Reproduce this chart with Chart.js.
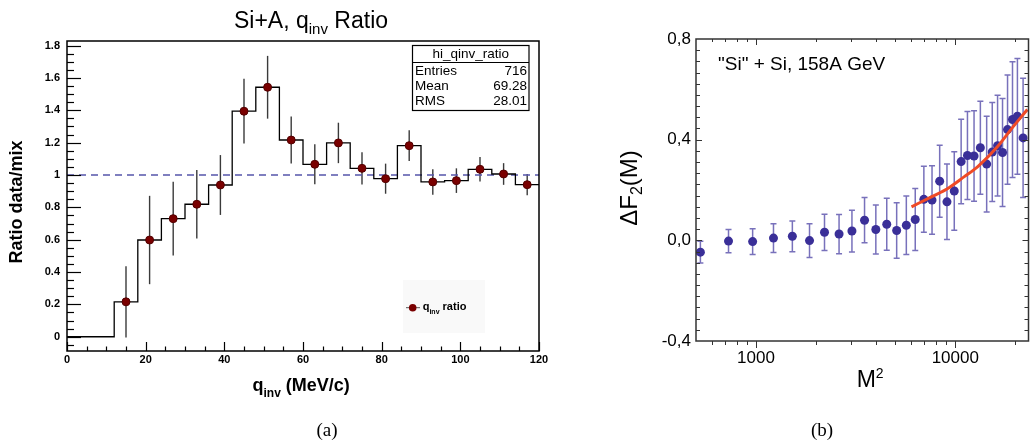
<!DOCTYPE html>
<html><head><meta charset="utf-8">
<script src="https://cdn.jsdelivr.net/npm/chart.js@4.4.0/dist/chart.umd.min.js"></script>
<style>
html,body{margin:0;padding:0;background:#fff;}
#wrap{position:relative;width:1033px;height:448px;overflow:hidden;background:#fff;}
#ca{position:absolute;left:0;top:0;width:580px;height:448px;}
#cb{position:absolute;left:580px;top:0;width:453px;height:448px;}
</style></head><body>
<div id="wrap">
<div id="ca"><canvas id="chartA" width="580" height="448"></canvas></div>
<div id="cb"><canvas id="chartB" width="453" height="448"></canvas></div>
</div>
<script>
// ---------- Panel (a): Si+A, q_inv ratio ----------
const qinvBinEdges = [0,6,12,18,24,30,36,42,48,54,60,66,72,78,84,90,96,102,108,114,120];
const ratioValues  = [0,0,0.216,0.598,0.730,0.819,0.938,1.394,1.542,1.216,1.066,1.198,1.041,0.977,1.181,0.957,0.965,1.035,1.006,0.940];
const ratioErrors  = [null,null,0.220,0.273,0.228,0.212,0.185,0.200,0.194,0.145,0.124,0.125,0.100,0.093,0.095,0.079,0.076,0.076,0.067,0.066];
const qinvTickValues  = [0,20,40,60,80,100,120];
const qinvTickLabels  = ['0','20','40','60','80','100','120'];
const ratioTickValues = [0,0.2,0.4,0.6,0.8,1,1.2,1.4,1.6,1.8];
const ratioTickLabels = ['0','0.2','0.4','0.6','0.8','1','1.2','1.4','1.6','1.8'];
const qinvRange  = [0,120];
const ratioRange = [-0.088,1.828];
const ratioReference = 1;
const statsTitle  = 'hi_qinv_ratio';
const statsNames  = ['Entries','Mean','RMS'];
const statsValues = ['716','69.28','28.01'];

// ---------- Panel (b): "Si" + Si, 158A GeV ----------
const m2Values  = [526,728,962,1224,1522,1856,2207,2611,3030,3505,3993,4530,5080,5680,6296,6955,7644,8350,9083,9883,10700,11510,12420,13360,14370,15330,16300,17260,18290,19370,20500,21890];
const dF2Values = [-0.047,-0.003,-0.005,0.009,0.016,-0.001,0.032,0.025,0.037,0.080,0.043,0.064,0.039,0.060,0.083,0.163,0.160,0.235,0.153,0.196,0.313,0.337,0.335,0.368,0.303,0.351,0.376,0.349,0.440,0.480,0.493,0.407];
const dF2Errors = [0.043,0.046,0.051,0.057,0.061,0.067,0.072,0.078,0.083,0.090,0.097,0.103,0.110,0.116,0.123,0.131,0.136,0.143,0.150,0.156,0.168,0.175,0.180,0.185,0.190,0.197,0.200,0.215,0.217,0.230,0.230,0.237];
const fitM2  = [6030,7590,9080,11100,12970,16300,19000,23000];
const fitDF2 = [0.133,0.173,0.204,0.253,0.293,0.373,0.440,0.520];
const m2TickValues  = [1000,10000];
const m2TickLabels  = ['1000','10000'];
const dF2TickValues = [-0.4,0,0.4,0.8];
const dF2TickLabels = ['-0,4','0,0','0,4','0,8'];
const m2Range  = [500,23300];
const dF2Range = [-0.4,0.8];

const FONT  = '"Liberation Sans", Arial, Helvetica, sans-serif';
const SERIF = '"Liberation Serif", "Times New Roman", serif';

function drawParts(ctx, parts, x, y, align){
  let total = 0;
  parts.forEach(p => { ctx.font = p.font; p.w = ctx.measureText(p.t).width; total += p.w; });
  let cx = align === 'center' ? x - total/2 : x;
  ctx.textAlign = 'left'; ctx.textBaseline = 'alphabetic';
  parts.forEach(p => { ctx.font = p.font; ctx.fillText(p.t, cx, y + (p.dy||0)); cx += p.w; });
}

// ---------- build panel (a) ----------
const histPoints = qinvBinEdges.map((e,i) => ({x:e, y:ratioValues[Math.min(i, ratioValues.length-1)]}));
const markerPoints = [];
ratioValues.forEach((v,i) => {
  if (ratioErrors[i] !== null) markerPoints.push({x:(qinvBinEdges[i]+qinvBinEdges[i+1])/2, y:v, err:ratioErrors[i]});
});

const panelA = {
  id:'panelA',
  beforeDatasetsDraw(chart){
    const {ctx, scales:{x,y}} = chart;
    ctx.save();
    ctx.strokeStyle = '#3a3a3a'; ctx.lineWidth = 1.4;
    markerPoints.forEach(p => {
      const px = x.getPixelForValue(p.x);
      ctx.beginPath();
      ctx.moveTo(px, y.getPixelForValue(p.y - p.err));
      ctx.lineTo(px, y.getPixelForValue(p.y + p.err));
      ctx.stroke();
    });
    ctx.restore();
  },
  afterDatasetsDraw(chart){
    const {ctx, chartArea:a, scales:{x,y}} = chart;
    ctx.save();
    ctx.strokeStyle = '#000'; ctx.lineWidth = 1.5;
    ctx.strokeRect(a.left, a.top, a.right-a.left, a.bottom-a.top);
    ctx.lineWidth = 1.2;
    for (let k=-1; k<=36; k++){
      const v = k*0.05; if (v < ratioRange[0] || v > ratioRange[1]) continue;
      const py = Math.round(y.getPixelForValue(v)) + 0.5;
      const len = (k % 4 === 0) ? 14 : 7;
      ctx.beginPath(); ctx.moveTo(a.left, py); ctx.lineTo(a.left+len, py); ctx.stroke();
    }
    for (let k=0; k<=24; k++){
      const v = k*5;
      const px = Math.round(x.getPixelForValue(v)) + 0.5;
      const len = (k % 4 === 0) ? 9 : 4.5;
      ctx.beginPath(); ctx.moveTo(px, a.bottom); ctx.lineTo(px, a.bottom-len); ctx.stroke();
    }
    ctx.restore();
  },
  afterDraw(chart){
    const {ctx} = chart;
    ctx.save();
    ctx.fillStyle = '#000';
    drawParts(ctx, [
      {t:'Si+A, q', font:'23px '+FONT},
      {t:'inv', font:'15px '+FONT, dy:6},
      {t:' Ratio', font:'23px '+FONT}
    ], 311, 28, 'center');
    ctx.save();
    ctx.translate(22, 202); ctx.rotate(-Math.PI/2);
    ctx.font = 'bold 18px '+FONT; ctx.textAlign = 'center'; ctx.textBaseline = 'alphabetic';
    ctx.fillText('Ratio data/mix', 0, 0);
    ctx.restore();
    drawParts(ctx, [
      {t:'q', font:'bold 18px '+FONT},
      {t:'inv', font:'bold 12px '+FONT, dy:6},
      {t:' (MeV/c)', font:'bold 18px '+FONT}
    ], 252.5, 391, 'left');
    // stats box
    ctx.fillStyle = '#fff'; ctx.fillRect(412.5, 45.5, 116.5, 65);
    ctx.strokeStyle = '#000'; ctx.lineWidth = 1.2;
    ctx.strokeRect(412.5, 45.5, 116.5, 65);
    ctx.beginPath(); ctx.moveTo(412.5, 62.5); ctx.lineTo(529, 62.5); ctx.stroke();
    ctx.fillStyle = '#000'; ctx.font = '13.5px '+FONT; ctx.textBaseline = 'alphabetic';
    ctx.textAlign = 'center'; ctx.fillText(statsTitle, 470.8, 58);
    statsNames.forEach((n,i) => {
      const by = 75 + i*14.8;
      ctx.textAlign = 'left';  ctx.fillText(n, 415, by);
      ctx.textAlign = 'right'; ctx.fillText(statsValues[i], 527, by);
    });
    // legend
    ctx.fillStyle = '#f9f9f9'; ctx.fillRect(403, 280, 82, 53);
    ctx.strokeStyle = '#555'; ctx.lineWidth = 1;
    ctx.beginPath(); ctx.moveTo(406, 307.7); ctx.lineTo(420, 307.7); ctx.stroke();
    ctx.fillStyle = '#7a0000'; ctx.beginPath(); ctx.arc(412.7, 307.7, 3.8, 0, Math.PI*2); ctx.fill();
    ctx.fillStyle = '#000';
    drawParts(ctx, [
      {t:'q', font:'bold 11px '+FONT},
      {t:'inv', font:'bold 7px '+FONT, dy:4},
      {t:' ratio', font:'bold 11px '+FONT}
    ], 422.7, 310, 'left');
    ctx.font = '19px '+SERIF; ctx.textAlign = 'center'; ctx.fillText('(a)', 327, 436);
    ctx.restore();
  }
};

new Chart(document.getElementById('chartA'), {
  type:'scatter',
  data:{datasets:[
    {type:'scatter', data:markerPoints, order:0, pointRadius:4, pointHoverRadius:4,
     pointBackgroundColor:'#7a0000', pointBorderColor:'#520000', pointBorderWidth:1},
    {type:'line', data:histPoints, order:1, stepped:'before', borderColor:'#000', borderWidth:1.3,
     pointRadius:0, fill:false, tension:0},
    {type:'line', data:[{x:qinvRange[0], y:ratioReference},{x:qinvRange[1], y:ratioReference}], order:2,
     borderColor:'#5555aa', borderWidth:1.6, borderDash:[7,5], pointRadius:0, fill:false}
  ]},
  options:{
    responsive:false, devicePixelRatio:1, animation:false,
    layout:{padding:{left:0, right:41, top:41, bottom:0}},
    plugins:{legend:{display:false}, tooltip:{enabled:false}, title:{display:false}},
    scales:{
      x:{type:'linear', min:qinvRange[0], max:qinvRange[1],
         afterBuildTicks:s => { s.ticks = qinvTickValues.map(v => ({value:v})); },
         afterFit:s => { s.height = 97; },
         ticks:{callback:(v,i) => qinvTickLabels[i], font:{family:FONT, size:11, weight:'bold'}, color:'#000',
                padding:2, maxRotation:0, autoSkip:false},
         grid:{display:false, drawTicks:false}, border:{display:false}},
      y:{type:'linear', min:ratioRange[0], max:ratioRange[1],
         afterBuildTicks:s => { s.ticks = ratioTickValues.map(v => ({value:v})); },
         afterFit:s => { s.width = 67; },
         ticks:{callback:(v,i) => ratioTickLabels[i], font:{family:FONT, size:11, weight:'bold'}, color:'#000',
                padding:7, autoSkip:false},
         grid:{display:false, drawTicks:false}, border:{display:false}}
    }
  },
  plugins:[panelA]
});

// ---------- build panel (b) ----------
const dF2Points = m2Values.map((m,i) => ({x:m, y:dF2Values[i], err:dF2Errors[i]}));
const fitPoints = fitM2.map((m,i) => ({x:m, y:fitDF2[i]}));

const panelB = {
  id:'panelB',
  beforeDatasetsDraw(chart){
    const {ctx, scales:{x,y}} = chart;
    ctx.save();
    ctx.strokeStyle = 'rgba(62,52,158,0.7)'; ctx.lineWidth = 1.5;
    dF2Points.forEach(p => {
      const px = x.getPixelForValue(p.x);
      const y1 = y.getPixelForValue(p.y - p.err), y2 = y.getPixelForValue(p.y + p.err);
      ctx.beginPath();
      ctx.moveTo(px, y1); ctx.lineTo(px, y2);
      ctx.moveTo(px-3, y1); ctx.lineTo(px+3, y1);
      ctx.moveTo(px-3, y2); ctx.lineTo(px+3, y2);
      ctx.stroke();
    });
    ctx.restore();
  },
  afterDatasetsDraw(chart){
    const {ctx, chartArea:a, scales:{x,y}} = chart;
    ctx.save();
    ctx.strokeStyle = '#333'; ctx.lineWidth = 1.5;
    ctx.strokeRect(a.left, a.top, a.right-a.left, a.bottom-a.top);
    ctx.lineWidth = 1;
    const nY = 27;
    for (let k=1; k<nY; k++){
      const v = dF2Range[0] + k*(dF2Range[1]-dF2Range[0])/nY;
      const py = Math.round(y.getPixelForValue(v)) + 0.5;
      const len = (k % 9 === 0) ? 6 : 4;
      ctx.beginPath();
      ctx.moveTo(a.left, py); ctx.lineTo(a.left+len, py);
      ctx.moveTo(a.right, py); ctx.lineTo(a.right-len, py);
      ctx.stroke();
    }
    [100,1000,10000].forEach(d => {
      for (let m=1; m<=9; m++){
        const v = m*d; if (v <= m2Range[0] || v >= m2Range[1]) continue;
        const px = Math.round(x.getPixelForValue(v)) + 0.5;
        const len = (m === 1) ? 7 : 4;
        ctx.beginPath();
        ctx.moveTo(px, a.bottom); ctx.lineTo(px, a.bottom+len);
        ctx.moveTo(px, a.top); ctx.lineTo(px, a.top+len-1);
        ctx.stroke();
      }
    });
    ctx.restore();
  },
  afterDraw(chart){
    const {ctx} = chart;
    ctx.save();
    ctx.fillStyle = '#000';
    ctx.font = '19px '+FONT; ctx.textAlign = 'left'; ctx.textBaseline = 'alphabetic';
    ctx.fillText('"Si" + Si, 158A GeV', 138, 70);
    ctx.save();
    ctx.translate(57, 188); ctx.rotate(-Math.PI/2);
    drawParts(ctx, [
      {t:'\u0394F', font:'24px '+FONT},
      {t:'2', font:'16px '+FONT, dy:5},
      {t:'(M)', font:'24px '+FONT}
    ], 0, 0, 'center');
    ctx.restore();
    drawParts(ctx, [
      {t:'M', font:'23px '+FONT},
      {t:'2', font:'14px '+FONT, dy:-9}
    ], 276.7, 386.7, 'left');
    ctx.font = '19px '+SERIF; ctx.textAlign = 'center'; ctx.fillText('(b)', 242, 436);
    ctx.restore();
  }
};

new Chart(document.getElementById('chartB'), {
  type:'scatter',
  data:{datasets:[
    {type:'line', data:fitPoints, order:0, borderColor:'#ef4a26', borderWidth:3, pointRadius:0,
     cubicInterpolationMode:'monotone', fill:false},
    {type:'scatter', data:dF2Points, order:1, pointRadius:4.5, pointHoverRadius:4.5,
     pointBackgroundColor:'#3a2f98', pointBorderColor:'#3a2f98', pointBorderWidth:0}
  ]},
  options:{
    responsive:false, devicePixelRatio:1, animation:false,
    layout:{padding:{left:0, right:2, top:39, bottom:0}},
    plugins:{legend:{display:false}, tooltip:{enabled:false}, title:{display:false}},
    scales:{
      x:{type:'logarithmic', min:m2Range[0], max:m2Range[1],
         afterBuildTicks:s => { s.ticks = m2TickValues.map(v => ({value:v})); },
         afterFit:s => { s.height = 107; },
         ticks:{callback:(v,i) => m2TickLabels[i], font:{family:FONT, size:17}, color:'#000',
                padding:7, maxRotation:0, autoSkip:false},
         grid:{display:false, drawTicks:false}, border:{display:false}},
      y:{type:'linear', min:dF2Range[0], max:dF2Range[1],
         afterBuildTicks:s => { s.ticks = dF2TickValues.map(v => ({value:v})); },
         afterFit:s => { s.width = 116; },
         ticks:{callback:(v,i) => dF2TickLabels[i], font:{family:FONT, size:17}, color:'#000',
                padding:5, autoSkip:false},
         grid:{display:false, drawTicks:false}, border:{display:false}}
    }
  },
  plugins:[panelB]
});
</script>
</body></html>
